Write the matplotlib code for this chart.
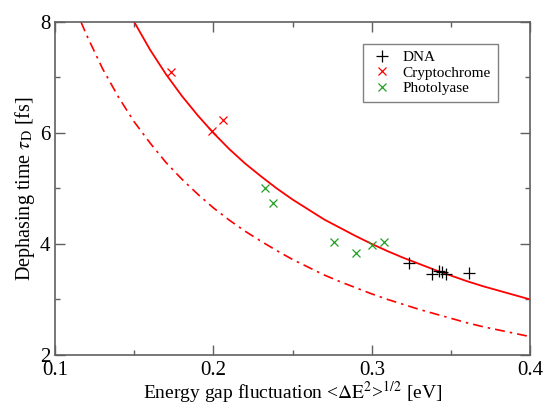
import matplotlib
matplotlib.use("Agg")
import matplotlib.pyplot as plt
from matplotlib.ticker import MultipleLocator

plt.rcParams['font.family'] = ['Liberation Serif', 'DejaVu Serif']
plt.rcParams['mathtext.fontset'] = 'stix'

# -------------------- data --------------------
dna_x = [0.3233, 0.3378, 0.3422, 0.3440, 0.3465, 0.3615]
dna_y = [3.65, 3.46, 3.52, 3.50, 3.46, 3.47]

crypto_x = [0.1729, 0.1988, 0.2061]
crypto_y = [7.09, 6.04, 6.23]

photo_x = [0.2323, 0.2376, 0.2760, 0.2897, 0.3000, 0.3075]
photo_y = [5.01, 4.73, 4.04, 3.83, 3.98, 4.04]

# solid fit curve
fit_x = [0.15, 0.16, 0.17, 0.18, 0.19, 0.20, 0.21, 0.22, 0.23, 0.24, 0.25, 0.26, 0.27,
         0.28, 0.29, 0.30, 0.31, 0.32, 0.33, 0.34, 0.35, 0.36, 0.37, 0.38, 0.39, 0.40]
fit_y = [8.00, 7.50, 7.06, 6.67, 6.32, 6.00, 5.71, 5.45, 5.22, 5.00, 4.80, 4.62, 4.44,
         4.29, 4.14, 4.00, 3.87, 3.75, 3.64, 3.53, 3.43, 3.33, 3.24, 3.16, 3.08, 3.00]

# dash-dot curve
dd_x = [0.1164, 0.12, 0.13, 0.14, 0.15, 0.16, 0.17, 0.18, 0.19, 0.20, 0.21, 0.22, 0.23,
        0.24, 0.25, 0.26, 0.27, 0.28, 0.29, 0.30, 0.31, 0.32, 0.33, 0.34, 0.35, 0.36,
        0.37, 0.38, 0.39, 0.40]
dd_y = [8.00, 7.76, 7.16, 6.65, 6.20, 5.82, 5.47, 5.17, 4.90, 4.65, 4.43, 4.23, 4.05,
        3.88, 3.72, 3.58, 3.44, 3.32, 3.21, 3.10, 3.00, 2.91, 2.82, 2.74, 2.66, 2.58,
        2.51, 2.45, 2.39, 2.33]

red = '#ff0000'
green = '#22a022'
axis_col = '#606060'

fig = plt.figure(figsize=(5.43, 4.05), dpi=100)
ax = fig.add_axes([0.1013, 0.1235, 0.8753, 0.8222])

ax.plot(fit_x, fit_y, color=red, lw=1.3)
ax.plot(dd_x, dd_y, color=red, lw=1.2, linestyle=(0, (6, 3, 1.5, 3)))

ax.plot(dna_x, dna_y, '+', color='black', ms=8, mew=0.9, label='DNA', linestyle='none')
ax.plot(crypto_x, crypto_y, 'x', color=red, ms=6, mew=0.9, label='Cryptochrome', linestyle='none')
ax.plot(photo_x, photo_y, 'x', color=green, ms=6, mew=0.9, label='Photolyase', linestyle='none')

ax.set_xlim(0.1, 0.4)
ax.set_ylim(2, 8)
ax.xaxis.set_major_locator(MultipleLocator(0.1))
ax.xaxis.set_minor_locator(MultipleLocator(0.05))
ax.yaxis.set_major_locator(MultipleLocator(2))
ax.yaxis.set_minor_locator(MultipleLocator(1))
ax.tick_params(which='both', direction='in', top=True, right=True, color=axis_col,
               labelsize=15, width=1)
ax.tick_params(which='major', length=7)
ax.tick_params(which='minor', length=3.5)
ax.tick_params(axis='x', pad=4)
for s in ax.spines.values():
    s.set_color(axis_col)
    s.set_linewidth(1.2)

ax.set_xlabel(r'Energy gap fluctuation <$\Delta\mathrm{E}^2$>$^{1/2}$ [eV]', fontsize=14, labelpad=0)
ax.set_ylabel(r'Dephasing time $\tau_\mathrm{D}$ [fs]', fontsize=14.5, labelpad=2)

leg = ax.legend(loc='upper left', bbox_to_anchor=(0.649, 0.935), fontsize=11,
                frameon=True, fancybox=False, handletextpad=0.6, borderpad=0.45,
                labelspacing=0.12, handlelength=1.5, borderaxespad=0)
leg.get_frame().set_edgecolor(axis_col)
leg.get_frame().set_linewidth(1.0)

fig.savefig('out.png', dpi=100)
